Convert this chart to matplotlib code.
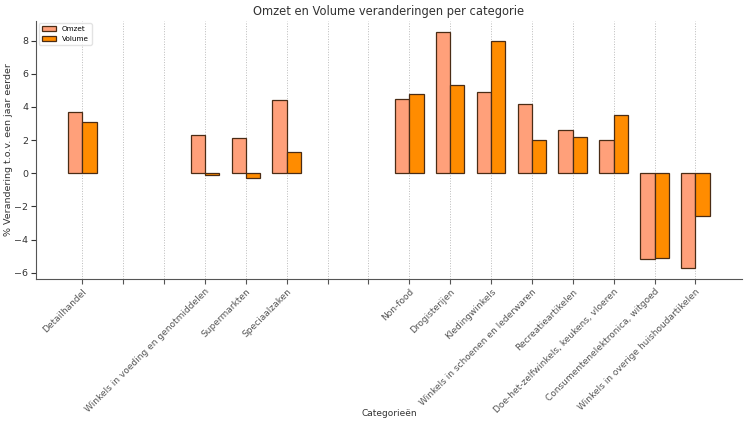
import numpy as np
import matplotlib.pyplot as plt

categories = ["Detailhandel", "", "", "Winkels in voeding en genotmiddelen",
              "Supermarkten", "Speciaalzaken", "", "", "Non-food",
              "Drogisterijen", "Kledingwinkels",
              "Winkels in schoenen en lederwaren", "Recreatieartikelen",
              "Doe-het-zelfwinkels, keukens, vloeren",
              "Consumentenelektronica, witgoed",
              "Winkels in overige huishoudartikelen"]
omzet = [3.7, np.nan, np.nan, 2.3, 2.1, 4.4, np.nan, np.nan, 4.5,
         8.5, 4.9, 4.2, 2.6, 2.0, -5.2, -5.7]
volume = [3.1, np.nan, np.nan, -0.1, -0.3, 1.3, np.nan, np.nan, 4.8,
          5.3, 8.0, 2.0, 2.2, 3.5, -5.1, -2.6]

x = np.arange(len(categories))
width = 0.35

fig = plt.figure(figsize=(7.5, 4.28), dpi=100)
ax = fig.add_axes([0.048, 0.347, 0.941, 0.605])

ax.bar(x - width / 2, omzet, width, label="Omzet", color="#FFA07A",
       edgecolor="#4a2c15", linewidth=0.9)
ax.bar(x + width / 2, volume, width, label="Volume", color="#FF8C00",
       edgecolor="#4a2c15", linewidth=0.9)

ax.set_xticks(x)
ax.set_xticklabels(categories, rotation=45, ha="right", fontsize=6.5,
                   rotation_mode="anchor", color="#333333")
ax.tick_params(axis="y", labelsize=6.8, colors="#333333", pad=2)
ax.tick_params(axis="x", colors="#555555", pad=2)
ax.set_xlabel("Categorieën", fontsize=6.5, color="#333333")
ax.xaxis.set_label_coords(0.5, -0.5)
ax.set_ylabel("% Verandering t.o.v. een jaar eerder", fontsize=6.8,
              color="#333333")
ax.yaxis.set_label_coords(-0.032, 0.5)
ax.set_title("Omzet en Volume veranderingen per categorie", fontsize=8.3,
             color="#333333", pad=4)
ax.grid(axis="x", linestyle=":", color="#bbbbbb", linewidth=0.7)
ax.set_axisbelow(True)
for s in ["top", "right"]:
    ax.spines[s].set_visible(False)
for s in ["left", "bottom"]:
    ax.spines[s].set_color("#555555")
ax.legend(loc="upper left", fontsize=5.2, handlelength=2, frameon=True,
          edgecolor="#dddddd", borderaxespad=0.4)

plt.savefig("out.png")
